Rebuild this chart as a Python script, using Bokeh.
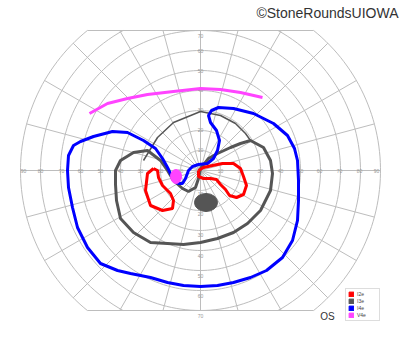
import numpy as np
from bokeh.plotting import figure
from bokeh.models import Legend, LegendItem
from bokeh.core.properties import value
from bokeh.embed import file_html
from bokeh.resources import INLINE

# ---- data (degrees of visual field) ----
ring_degrees = [10, 20, 30, 40, 50, 60, 70, 80, 90]
meridian_degrees = list(range(0, 360, 15))
h_labels = ["90", "80", "70", "60", "50", "40", "30", "20", "10", "10", "20", "30", "40", "50", "60", "70", "80", "90"]
h_label_pos = [-88.5, -80, -69.5, -60, -50, -40, -30, -20, -10, 10, 20, 30, 40, 50, 59.5, 69.5, 79.5, 88]
v_labels = ["70", "60", "50", "40", "30", "20", "10", "10", "20", "30", "40", "50", "60", "70"]
v_label_pos = [67.5, 60, 50, 40.5, 30.5, 20.5, 10.5, -11.5, -21.5, -32, -42.5, -52.5, -62.5, -72.5]

i4e_x = [-11.5, -9, -7.5, -6, -4, -1, 3.5, 6.5, 8.5, 9.5, 8, 5, 4, 5.5, 9, 16.5, 26.5, 36.5, 43.5, 47, 48.5, 49, 49,
         48.5, 46, 41, 33, 25, 16.5, 8.5, 0, -8.5, -16.5, -25, -35, -41.5, -50, -56.5, -61.5, -64, -66, -66.5, -66,
         -63.5, -60, -53.5, -44, -36.5, -28.5, -22.5, -19, -16.5, -14, -11.5]
i4e_y = [-6.5, -6.5, -4, 0, 2, 3, 3.5, 6, 10, 15, 20, 24, 27.5, 30, 31.5, 31, 28.5, 23.5, 17.5, 11, 5, -5, -15,
         -25, -35, -43.5, -50, -53.5, -56, -57.5, -58, -57.5, -56, -53.5, -51.5, -50, -46.5, -38.5, -28.5, -18.5, -8.5, 0, 7.5,
         12.5, 14.5, 17, 19.5, 19, 15, 11, 6, 1.5, -3.5, -6.5]

i3e_x = [0, -1, -2.5, -6, -9, -13.5, -16.5, -20, -26.5, -33.5, -40, -42.5, -42.5, -42, -40, -33.5, -25, -16.5, -8.5, 0,
         8.5, 16.5, 23.5, 30, 32.5, 35, 36, 35, 31.5, 25, 20, 15, 8.5, 4, 0]
i3e_y = [1, -4, -8.5, -10.5, -9, -5, 0, 5, 10, 9, 5, 0, -7, -15, -24, -31, -36, -36.5, -37, -36,
         -34, -31, -26.5, -20, -15, -10, -1.5, 5, 11.5, 15, 13.5, 11.5, 8.5, 6, 1]

i3e_arc_x = [-28.5, -21.5, -13.5, 0, 10, 17.5, 22.5, 25]
i3e_arc_y = [5, 16.5, 24, 29.5, 27.5, 23.5, 18.5, 15]

i2e_left_x = [-23.5, -26.5, -27.5, -25, -19, -14, -13.5, -15, -19, -21, -21.5, -23.5]
i2e_left_y = [1, -1.5, -10, -17.5, -20, -19, -15, -11.5, -7.5, -3.5, 0, 1]
i2e_right_x = [-1, -1, 1.5, 5, 8, 10, 12.5, 14.5, 18, 21.5, 23, 21.5, 20, 16.5, 11, 6, 1.5, -1]
i2e_right_y = [0, -3, -4, -4, -4.5, -7, -9.5, -12.5, -13.5, -12, -7.5, -3, 1, 3.5, 3.5, 2.5, 1.5, 0]

v4e_x = [-55.5, -46.5, -36.5, -26.5, -13.5, 0, 10, 20, 31]
v4e_y = [28.5, 33.5, 36, 38, 39.5, 41, 40.5, 39, 36.5]

v4e_spot = (-12.25, -3, 5.5, 7)      # x, y, width, height
blind_spot = (2.75, -16, 11.5, 9)

legend_names = ["I2e", "I3e", "I4e", "V4e"]
legend_colors = ["#ff0000", "#555555", "#0000ff", "#ff44ff"]

# ---- figure ----
p = figure(width=400, height=352, x_range=(-100, 100), y_range=(-91, 85),
           output_backend="svg", toolbar_location=None, min_border=0)
p.axis.visible = False
p.grid.visible = False
p.outline_line_color = None
p.background_fill_color = "white"
p.border_fill_color = "white"

LIM = 70.0
grid_xs, grid_ys = [], []
for r in ring_degrees:
    if r <= LIM:
        t = np.linspace(0, 2 * np.pi, 181)
        grid_xs.append(list(r * np.cos(t)))
        grid_ys.append(list(r * np.sin(t)))
    else:
        a = np.arcsin(LIM / r)
        for c in (0.0, np.pi):
            t = np.linspace(c - a, c + a, 60)
            grid_xs.append(list(r * np.cos(t)))
            grid_ys.append(list(r * np.sin(t)))
R = ring_degrees[-1]
chord = float(np.sqrt(R ** 2 - LIM ** 2))
for yy in (LIM, -LIM):
    grid_xs.append([-chord, chord])
    grid_ys.append([yy, yy])
for m in meridian_degrees:
    ph = np.radians(m)
    s = abs(np.sin(ph))
    rr = R if s < 1e-9 else min(R, LIM / s)
    grid_xs.append([0, rr * np.cos(ph)])
    grid_ys.append([0, rr * np.sin(ph)])
p.multi_line(grid_xs, grid_ys, line_color="#bdbdbd", line_width=1)

p.text(x=h_label_pos, y=[0] * len(h_labels), text=h_labels, text_font_size="5px",
       text_color="#999999", text_align="center", text_baseline="middle", text_font=value("Liberation Sans"))
p.text(x=[0] * len(v_labels), y=v_label_pos, text=v_labels, text_font_size="5px",
       text_color="#999999", text_align="center", text_baseline="middle", text_font=value("Liberation Sans"))

# isopters
p.ellipse(x=[blind_spot[0]], y=[blind_spot[1]], width=[blind_spot[2]], height=[blind_spot[3]],
          fill_color="#555555", line_color="#555555")
p.line(i3e_x, i3e_y, line_color="#555555", line_width=3)
p.line(i3e_arc_x, i3e_arc_y, line_color="#555555", line_width=1.5)
p.line(i4e_x, i4e_y, line_color="#0000ff", line_width=3)
p.line(i2e_left_x, i2e_left_y, line_color="#ff0000", line_width=3)
p.line(i2e_right_x, i2e_right_y, line_color="#ff0000", line_width=3)
p.line(v4e_x, v4e_y, line_color="#ff44ff", line_width=3)
p.ellipse(x=[v4e_spot[0]], y=[v4e_spot[1]], width=[v4e_spot[2]], height=[v4e_spot[3]],
          fill_color="#ff44ff", line_color="#ff44ff")

# legend (proxy renderers whose single point is NaN, so they draw nothing in the plot)
items = []
for name, col in zip(legend_names, legend_colors):
    r = p.quad(left=[np.nan], right=[np.nan], top=[np.nan], bottom=[np.nan], fill_color=col, line_color=col)
    items.append(LegendItem(label=name, renderers=[r]))
leg = Legend(items=items, location=(345, 31), glyph_width=6, glyph_height=6, label_height=6,
             label_text_font_size="5px", label_text_font="Liberation Sans", label_standoff=3,
             spacing=1, padding=2, margin=0, border_line_color="#bbbbbb",
             label_text_baseline="middle")
p.add_layout(leg, "center")

p.text(x=[63.5], y=[-73], text=["OS"], text_font_size="10px", text_color="#333333",
       text_align="center", text_baseline="middle", text_font=value("Liberation Sans"))
p.text(x=[99], y=[79], text=["©StoneRoundsUIOWA"], text_font_size="14px", text_color="#333333",
       text_align="right", text_baseline="alphabetic", text_font=value("Liberation Sans"))

open("out.html", "w").write(file_html(p, INLINE))
